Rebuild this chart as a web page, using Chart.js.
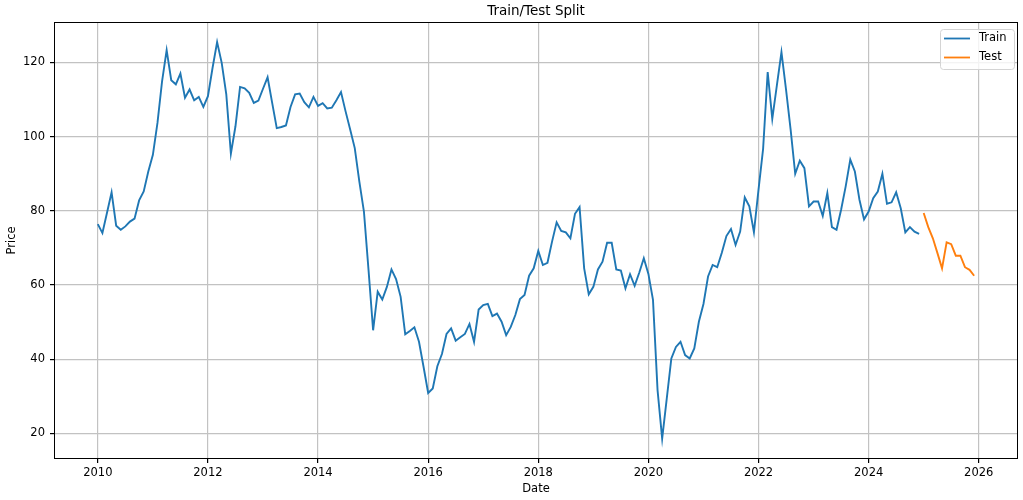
<!DOCTYPE html>
<html><head><meta charset="utf-8">
<script src="https://cdn.jsdelivr.net/npm/chart.js@4.4.1/dist/chart.umd.min.js"></script>
<style>html,body{margin:0;padding:0;background:#fff}#wrap{width:1023px;height:500px}</style>
</head><body><div id="wrap"><canvas id="c" width="1023" height="500"></canvas></div>
<script>
// ---- data (monthly, starting Jan 2010) ----
const startYear = 2010;
const trainValues = [
  76.4, 74.0, 79.5, 85.0, 76.0, 74.9, 75.8, 77.1, 77.9, 82.8, 85.2, 90.6,
  95.1, 103.7, 114.9, 123.3, 115.2, 114.1, 117.0, 110.5, 112.7, 109.8, 110.7, 108.0,
  110.9, 118.5, 125.5, 119.9, 111.4, 95.4, 102.8, 113.4, 113.0, 111.8, 109.1, 109.7,
  112.9, 116.0, 109.1, 102.3, 102.6, 103.0, 108.0, 111.4, 111.6, 109.3, 107.9, 110.7,
  108.3, 109.0, 107.6, 107.8, 109.8, 112.0, 106.8, 101.9, 96.9, 87.9, 79.8, 64.1,
  47.8, 58.2, 56.1, 59.5, 64.2, 61.6, 56.8, 46.7, 47.6, 48.6, 44.7, 37.9,
  30.9, 32.1, 38.1, 41.4, 46.8, 48.3, 45.0, 45.9, 46.8, 49.5, 44.7, 53.4,
  54.6, 54.9, 51.6, 52.3, 50.1, 46.5, 48.7, 51.9, 56.2, 57.3, 62.5, 64.5,
  69.2, 65.4, 66.0, 71.7, 76.9, 74.6, 74.2, 72.6, 79.2, 81.0, 64.5, 57.5,
  59.5, 64.2, 66.3, 71.4, 71.4, 64.2, 63.9, 59.1, 62.9, 59.8, 63.3, 67.2,
  63.0, 56.0, 31.6, 18.6, 29.4, 40.2, 43.3, 44.7, 41.1, 40.2, 42.9, 50.1,
  54.9, 62.3, 65.4, 64.8, 68.7, 73.2, 75.1, 70.8, 74.4, 83.6, 81.2, 74.2,
  85.7, 96.7, 117.4, 104.8, 113.8, 122.8, 112.7, 101.9, 90.0, 93.5, 91.5, 81.2,
  82.5, 82.5, 78.6, 84.8, 75.6, 74.9, 80.3, 86.6, 93.8, 90.6, 83.0, 77.7,
  79.8, 83.4, 85.2, 90.0, 81.9, 82.3, 85.0, 80.7, 74.2, 75.6, 74.4, 73.8
];
const testValues = [79.4, 75.6, 72.6, 68.6, 64.5, 71.5, 71.0, 67.9, 67.9, 64.8, 64.1, 62.5];
const xTickYears = [2010, 2012, 2014, 2016, 2018, 2020, 2022, 2024, 2026];
const yTickValues = [20, 40, 60, 80, 100, 120];
const seriesLabels = ['Train', 'Test'];
const seriesColors = ['#1f77b4', '#ff7f0e'];

const trainPoints = trainValues.map((v, i) => ({ x: startYear + i / 12, y: v }));
const testPoints = testValues.map((v, i) => ({ x: startYear + (trainValues.length + i) / 12, y: v }));

const FONT = 'DejaVu Sans';
const decor = {
  id: 'decor',
  afterDraw(chart) {
    const ctx = chart.ctx, a = chart.chartArea;
    ctx.save();
    // frame
    ctx.strokeStyle = '#000'; ctx.lineWidth = 1;
    ctx.strokeRect(Math.round(a.left) + 0.5, Math.round(a.top) + 0.5,
      Math.round(a.right - a.left) - 1, Math.round(a.bottom - a.top) - 1);
    // title and axis labels
    ctx.fillStyle = '#000';
    ctx.textAlign = 'center'; ctx.textBaseline = 'middle';
    ctx.font = '13.5px "' + FONT + '"';
    ctx.fillText('Train/Test Split', (a.left + a.right) / 2, 11);
    ctx.font = '11.5px "' + FONT + '"';
    ctx.fillText('Date', (a.left + a.right) / 2, 489);
    ctx.save();
    ctx.translate(12.5, (a.top + a.bottom) / 2);
    ctx.rotate(-Math.PI / 2);
    ctx.fillText('Price', 0, 0);
    ctx.restore();
    // legend
    const bx = 940.5, by = 29.5, bw = 74, bh = 40, r = 3;
    ctx.beginPath();
    ctx.moveTo(bx + r, by); ctx.lineTo(bx + bw - r, by); ctx.arcTo(bx + bw, by, bx + bw, by + r, r);
    ctx.lineTo(bx + bw, by + bh - r); ctx.arcTo(bx + bw, by + bh, bx + bw - r, by + bh, r);
    ctx.lineTo(bx + r, by + bh); ctx.arcTo(bx, by + bh, bx, by + bh - r, r);
    ctx.lineTo(bx, by + r); ctx.arcTo(bx, by, bx + r, by, r); ctx.closePath();
    ctx.fillStyle = 'rgba(255,255,255,0.8)'; ctx.fill();
    ctx.strokeStyle = '#d4d4d4'; ctx.stroke();
    chart.data.datasets.forEach((ds, i) => {
      const yy = 38.5 + i * 19;
      ctx.strokeStyle = ds.borderColor; ctx.lineWidth = 1.8;
      ctx.beginPath(); ctx.moveTo(944, yy); ctx.lineTo(970, yy); ctx.stroke();
      ctx.fillStyle = '#000'; ctx.textAlign = 'left'; ctx.textBaseline = 'middle';
      ctx.font = '11.5px "' + FONT + '"';
      ctx.fillText(ds.label, 979, yy);
    });
    ctx.restore();
  }
};

new Chart(document.getElementById('c'), {
  type: 'line',
  data: {
    datasets: [
      { label: seriesLabels[0], data: trainPoints, borderColor: seriesColors[0], backgroundColor: seriesColors[0],
        borderWidth: 1.9, pointRadius: 0, tension: 0, fill: false },
      { label: seriesLabels[1], data: testPoints, borderColor: seriesColors[1], backgroundColor: seriesColors[1],
        borderWidth: 1.9, pointRadius: 0, tension: 0, fill: false }
    ]
  },
  options: {
    responsive: false, animation: false, devicePixelRatio: 1,
    layout: { padding: { left: 0, right: 5, top: 22, bottom: 0 } },
    plugins: { legend: { display: false }, title: { display: false }, tooltip: { enabled: false } },
    scales: {
      x: {
        type: 'linear', min: 2009.204, max: 2026.713,
        afterFit: s => { s.height = 41; },
        afterBuildTicks: s => { s.ticks = xTickYears.map(v => ({ value: v })); },
        ticks: { callback: v => String(v), color: '#000', padding: 3, maxRotation: 0,
          font: { family: FONT, size: 11.5 } },
        grid: { color: '#c2c2c2', lineWidth: 1.2, tickColor: '#000', tickLength: 4 },
        border: { display: false }
      },
      y: {
        type: 'linear', min: 13.1, max: 130.9,
        afterFit: s => { s.width = 54; },
        afterBuildTicks: s => { s.ticks = yTickValues.map(v => ({ value: v })); },
        ticks: { callback: v => String(v), color: '#000', padding: 5,
          font: { family: FONT, size: 11.5 } },
        grid: { color: '#c2c2c2', lineWidth: 1.2, tickColor: '#000', tickLength: 4 },
        border: { display: false }
      }
    }
  },
  plugins: [decor]
});
</script></body></html>
